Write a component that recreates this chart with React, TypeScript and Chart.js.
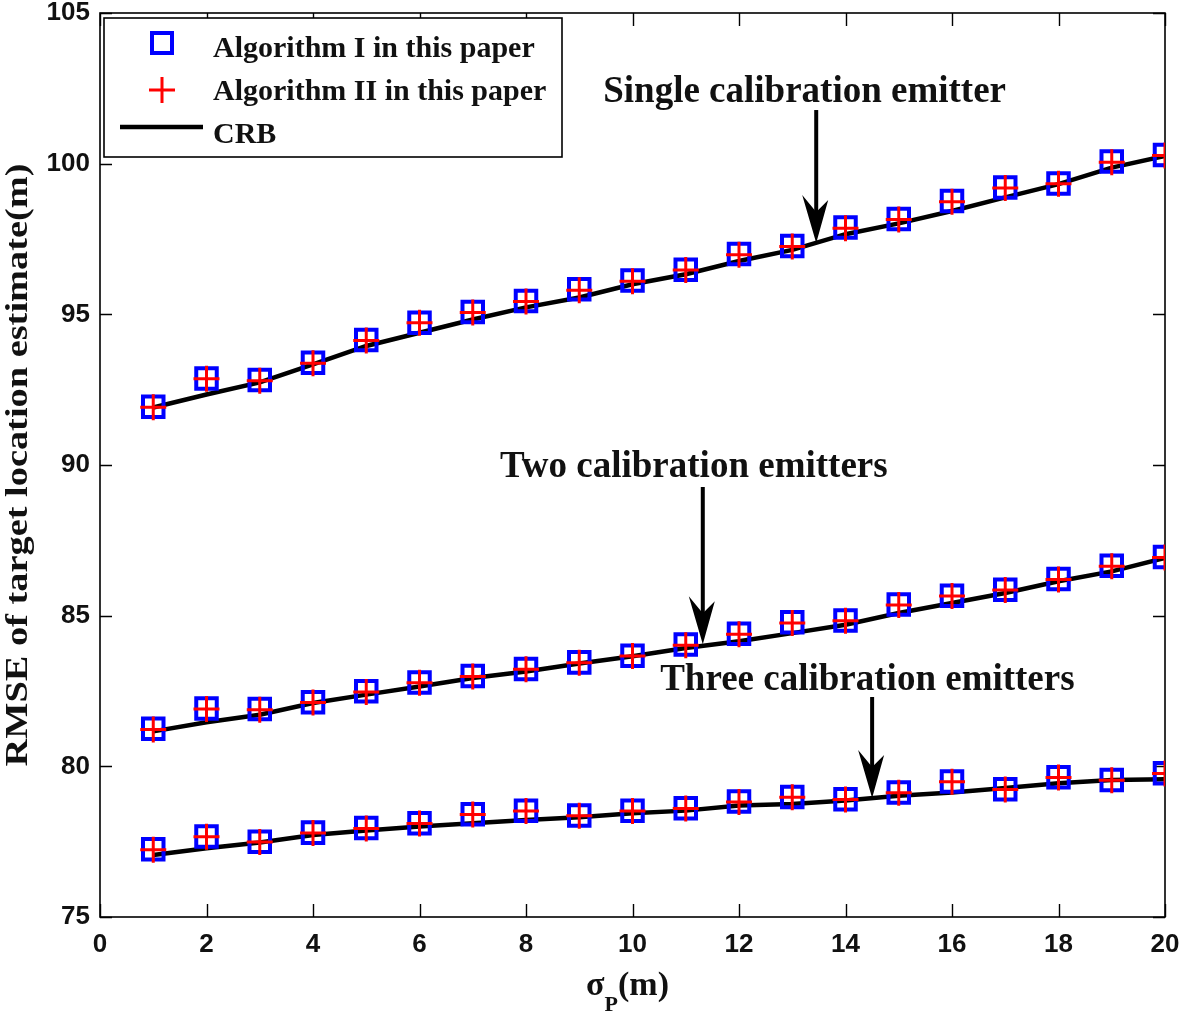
import React, { useEffect, useRef } from "react";
import { Chart, registerables } from "chart.js";

Chart.register(...registerables);

// ---------- data ----------
const sigmaP = [1, 2, 3, 4, 5, 6, 7, 8, 9, 10, 11, 12, 13, 14, 15, 16, 17, 18, 19, 20];

const singleAlgI = [91.93, 92.87, 92.82, 93.39, 94.15, 94.72, 95.08, 95.44, 95.83, 96.12, 96.48, 97.0, 97.27, 97.88, 98.16, 98.76, 99.21, 99.34, 100.07, 100.29];
const singleAlgII = [91.92, 92.86, 92.8, 93.38, 94.13, 94.72, 95.06, 95.43, 95.8, 96.1, 96.47, 96.98, 97.25, 97.86, 98.15, 98.74, 99.19, 99.33, 100.05, 100.27];
const singleCRB = [91.91, 92.34, 92.74, 93.34, 93.95, 94.39, 94.83, 95.23, 95.56, 96.0, 96.33, 96.77, 97.14, 97.66, 98.02, 98.43, 98.88, 99.32, 99.87, 100.26];

const twoAlgI = [81.25, 81.92, 81.9, 82.13, 82.49, 82.78, 83.0, 83.23, 83.45, 83.67, 84.04, 84.4, 84.78, 84.84, 85.37, 85.66, 85.86, 86.22, 86.66, 86.95];
const twoAlgII = [81.22, 81.9, 81.88, 82.12, 82.47, 82.77, 82.98, 83.22, 83.44, 83.66, 84.02, 84.38, 84.76, 84.83, 85.35, 85.65, 85.85, 86.2, 86.64, 86.93];
const twoCRB = [81.16, 81.46, 81.71, 82.1, 82.38, 82.65, 82.93, 83.15, 83.41, 83.65, 83.93, 84.15, 84.42, 84.7, 85.09, 85.42, 85.75, 86.14, 86.47, 86.92];

const threeAlgI = [77.25, 77.67, 77.5, 77.8, 77.95, 78.11, 78.41, 78.53, 78.37, 78.53, 78.61, 78.83, 78.98, 78.91, 79.13, 79.5, 79.24, 79.64, 79.55, 79.77];
const threeAlgII = [77.23, 77.66, 77.49, 77.79, 77.94, 78.1, 78.4, 78.52, 78.36, 78.52, 78.6, 78.82, 78.97, 78.9, 79.12, 79.49, 79.23, 79.63, 79.54, 79.76];
const threeCRB = [77.06, 77.28, 77.47, 77.72, 77.87, 78.0, 78.11, 78.22, 78.31, 78.44, 78.53, 78.7, 78.75, 78.87, 79.02, 79.13, 79.28, 79.44, 79.55, 79.57];

const xTicks = [0, 2, 4, 6, 8, 10, 12, 14, 16, 18, 20];
const yTicks = [75, 80, 85, 90, 95, 100, 105];

const legendLabels = ["Algorithm I in this paper", "Algorithm II in this paper", "CRB"];
const yTitle = "RMSE of target location estimate(m)";

// annotations: text anchor (left, baseline) and arrow (x, top, tip) in data units
const annotationTexts = ["Single calibration emitter", "Two calibration emitters", "Three calibration emitters"];
const annotationTextX = [9.45, 7.51, 10.52];
const annotationTextY = [102.05, 89.6, 82.53];
const arrowX = [13.45, 11.32, 14.5];
const arrowTop = [101.78, 89.27, 82.3];
const arrowTip = [97.37, 84.05, 78.95];

const SERIF = '"Liberation Serif", "Times New Roman", serif';
const SANS = '"Liberation Sans", Arial, sans-serif';

const pts = (ys: number[]) => sigmaP.map((x, i) => ({ x, y: ys[i] }));

function drawPlus(ctx: CanvasRenderingContext2D, x: number, y: number, r: number) {
  ctx.beginPath();
  ctx.moveTo(x - r, y);
  ctx.lineTo(x + r, y);
  ctx.moveTo(x, y - r);
  ctx.lineTo(x, y + r);
  ctx.stroke();
}

const zeroPad = (s: any) => {
  s.paddingLeft = 0;
  s.paddingRight = 0;
  s.paddingTop = 0;
  s.paddingBottom = 0;
};

const framePlugin = {
  id: "matlabFrame",
  beforeDatasetsDraw(chart: any) {
    const { ctx, chartArea: a, scales } = chart;
    const xs = scales.x;
    const ys = scales.y;
    ctx.save();
    ctx.strokeStyle = "#000";
    ctx.lineWidth = 1.6;
    ctx.strokeRect(a.left, a.top, a.right - a.left, a.bottom - a.top);
    ctx.lineWidth = 1.4;
    const tl = 13;
    ctx.beginPath();
    for (const t of xTicks) {
      const px = Math.round(xs.getPixelForValue(t)) + 0.5;
      ctx.moveTo(px, a.bottom);
      ctx.lineTo(px, a.bottom - tl);
      ctx.moveTo(px, a.top);
      ctx.lineTo(px, a.top + tl);
    }
    for (const t of yTicks) {
      const py = Math.round(ys.getPixelForValue(t)) + 0.5;
      ctx.moveTo(a.left, py);
      ctx.lineTo(a.left + 12, py);
      ctx.moveTo(a.right, py);
      ctx.lineTo(a.right - 12, py);
    }
    ctx.stroke();
    ctx.restore();
  },
  afterDraw(chart: any) {
    const { ctx, chartArea: a, scales } = chart;
    const xs = scales.x;
    const ys = scales.y;
    ctx.save();

    // ----- annotations -----
    ctx.fillStyle = "#111";
    ctx.strokeStyle = "#000";
    ctx.font = `bold 37px ${SERIF}`;
    ctx.textAlign = "left";
    ctx.textBaseline = "alphabetic";
    annotationTexts.forEach((txt, i) => {
      ctx.fillText(txt, xs.getPixelForValue(annotationTextX[i]), ys.getPixelForValue(annotationTextY[i]));
      const ax = xs.getPixelForValue(arrowX[i]);
      const top = ys.getPixelForValue(arrowTop[i]);
      const tip = ys.getPixelForValue(arrowTip[i]);
      ctx.lineWidth = 4;
      ctx.beginPath();
      ctx.moveTo(ax, top);
      ctx.lineTo(ax, tip - 30);
      ctx.stroke();
      ctx.fillStyle = "#000";
      ctx.beginPath();
      ctx.moveTo(ax, tip);
      ctx.lineTo(ax - 14, tip - 48);
      ctx.lineTo(ax, tip - 31);
      ctx.lineTo(ax + 12, tip - 43);
      ctx.closePath();
      ctx.fill();
      ctx.fillStyle = "#111";
    });

    // ----- legend -----
    const lx = a.left + 4;
    const ly = a.top + 5;
    ctx.fillStyle = "#fff";
    ctx.fillRect(lx, ly, 458, 139);
    ctx.strokeStyle = "#000";
    ctx.lineWidth = 1.6;
    ctx.strokeRect(lx, ly, 458, 139);
    ctx.strokeStyle = "#0000ff";
    ctx.lineWidth = 4;
    ctx.strokeRect(lx + 58 - 10, ly + 25 - 10, 20, 20);
    ctx.strokeStyle = "#ff0000";
    ctx.lineWidth = 3;
    drawPlus(ctx, lx + 58, ly + 72, 13);
    ctx.strokeStyle = "#000";
    ctx.lineWidth = 4.5;
    ctx.beginPath();
    ctx.moveTo(lx + 16, ly + 109);
    ctx.lineTo(lx + 99, ly + 109);
    ctx.stroke();
    ctx.fillStyle = "#111";
    ctx.font = `bold 30px ${SERIF}`;
    ctx.textAlign = "left";
    const baselines = [39, 82, 125];
    legendLabels.forEach((t, i) => ctx.fillText(t, lx + 109, ly + baselines[i]));

    // ----- y title -----
    ctx.save();
    ctx.font = `bold 31px ${SERIF}`;
    const w = ctx.measureText(yTitle).width;
    const target = 603;
    ctx.translate(27, (a.top + a.bottom) / 2);
    ctx.rotate(-Math.PI / 2);
    ctx.scale(target / w, 1);
    ctx.textAlign = "center";
    ctx.textBaseline = "alphabetic";
    ctx.fillStyle = "#111";
    ctx.fillText(yTitle, 0, 0);
    ctx.restore();

    // ----- x title: sigma_P(m) -----
    ctx.fillStyle = "#111";
    ctx.textAlign = "left";
    ctx.textBaseline = "alphabetic";
    ctx.font = `bold 34px ${SERIF}`;
    const sW = ctx.measureText("\u03c3").width;
    const mW = ctx.measureText("(m)").width;
    ctx.font = `bold 22px ${SERIF}`;
    const pW = ctx.measureText("P").width;
    const total = sW + pW + mW;
    const cx = (a.left + a.right) / 2 - 5;
    let sx = cx - total / 2;
    ctx.font = `bold 34px ${SERIF}`;
    ctx.fillText("\u03c3", sx, 995);
    sx += sW;
    ctx.font = `bold 22px ${SERIF}`;
    ctx.fillText("P", sx, 1011);
    sx += pW;
    ctx.font = `bold 34px ${SERIF}`;
    ctx.fillText("(m)", sx, 995);

    ctx.restore();
  },
};

export default function App() {
  const ref = useRef<HTMLCanvasElement | null>(null);

  useEffect(() => {
    if (!ref.current) return;
    const sq = (label: string, data: number[]) => ({
      label,
      data: pts(data),
      showLine: false,
      pointStyle: "rect",
      pointRadius: 14.5,
      pointBorderWidth: 4,
      pointBorderColor: "#0000ff",
      pointBackgroundColor: "rgba(0,0,0,0)",
      order: 1,
    });
    const plus = (label: string, data: number[]) => ({
      label,
      data: pts(data),
      showLine: false,
      pointStyle: "cross",
      pointRadius: 13,
      pointBorderWidth: 3,
      pointBorderColor: "#ff0000",
      pointBackgroundColor: "#ff0000",
      order: 0,
    });
    const line = (label: string, data: number[]) => ({
      label,
      data: pts(data),
      showLine: true,
      borderColor: "#000",
      borderWidth: 4.5,
      pointRadius: 0,
      tension: 0,
      order: 2,
    });

    const chart = new Chart(ref.current, {
      type: "scatter",
      data: {
        datasets: [
          line("CRB single", singleCRB),
          line("CRB two", twoCRB),
          line("CRB three", threeCRB),
          sq("Alg I single", singleAlgI),
          sq("Alg I two", twoAlgI),
          sq("Alg I three", threeAlgI),
          plus("Alg II single", singleAlgII),
          plus("Alg II two", twoAlgII),
          plus("Alg II three", threeAlgII),
        ] as any,
      },
      options: {
        responsive: false,
        animation: false,
        devicePixelRatio: 1,
        layout: { autoPadding: false, padding: { top: 13, right: 16, left: 0, bottom: 0 } },
        plugins: { legend: { display: false }, tooltip: { enabled: false } },
        scales: {
          x: {
            type: "linear",
            min: 0,
            max: 20,
            afterFit: (s: any) => {
              s.height = 99;
              zeroPad(s);
            },
            afterBuildTicks: (s: any) => {
              s.ticks = xTicks.map((v) => ({ value: v }));
            },
            grid: { display: false, drawTicks: false },
            border: { display: false },
            ticks: {
              color: "#111",
              padding: 12,
              maxRotation: 0,
              font: { family: SANS, size: 26, weight: "bold" },
            },
          },
          y: {
            type: "linear",
            min: 75,
            max: 105,
            afterFit: (s: any) => {
              s.width = 100;
              zeroPad(s);
            },
            afterBuildTicks: (s: any) => {
              s.ticks = yTicks.map((v) => ({ value: v }));
            },
            grid: { display: false, drawTicks: false },
            border: { display: false },
            ticks: {
              color: "#111",
              padding: 10,
              font: { family: SANS, size: 26, weight: "bold" },
            },
          },
        },
      } as any,
      plugins: [framePlugin],
    });
    return () => chart.destroy();
  }, []);

  return (
    <div style={{ position: "absolute", left: 0, top: 0, width: 1181, height: 1016, background: "#fff" }}>
      <canvas ref={ref} width={1181} height={1016} />
    </div>
  );
}
